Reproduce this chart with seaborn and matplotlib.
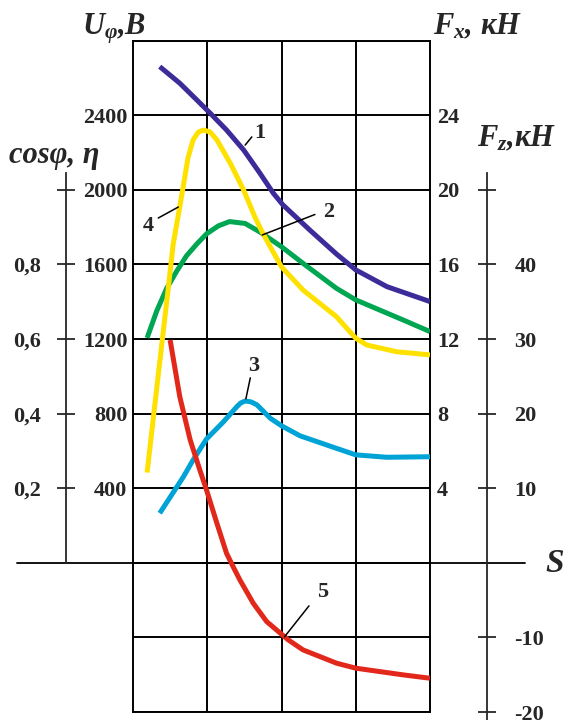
import numpy as np
import pandas as pd
import seaborn as sns
import matplotlib.pyplot as plt

# slip S in grid divisions, all curves read on the U scale (V) of the left axis
s_1 = [0.36, 0.63, 0.86, 1.04, 1.26, 1.49, 1.71, 1.89, 2.02, 2.38, 2.74, 3.0, 3.42, 4.0]
u_1 = [2661, 2572, 2482, 2411, 2321, 2214, 2089, 1982, 1919, 1785, 1656, 1571, 1481, 1401]

s_2 = [0.19, 0.32, 0.45, 0.59, 0.72, 0.86, 0.99, 1.15, 1.3, 1.51, 1.71, 2.0, 2.29,
       2.74, 3.0, 3.64, 4.0]
u_2 = [1206, 1351, 1469, 1565, 1646, 1710, 1764, 1807, 1830, 1820, 1774, 1695, 1606,
       1472, 1410, 1302, 1240]

s_3 = [0.36, 0.68, 0.81, 0.99, 1.22, 1.4, 1.45, 1.51, 1.59, 1.67, 1.85, 2.0, 2.25,
       2.74, 3.0, 3.42, 4.0]
u_3 = [266, 462, 552, 664, 757, 838, 857, 868, 863, 847, 775, 735, 681,
       614, 579, 566, 569]

s_4 = [0.19, 0.3, 0.41, 0.48, 0.54, 0.61, 0.68, 0.74, 0.81, 0.88, 0.95, 1.04, 1.13,
       1.31, 1.49, 1.64, 1.74, 1.85, 2.0, 2.29, 2.74, 3.0, 3.15, 3.55, 4.0]
u_4 = [484, 868, 1249, 1490, 1705, 1865, 2026, 2171, 2268, 2310, 2321, 2310, 2268,
       2143, 1999, 1856, 1774, 1694, 1587, 1463, 1320, 1204, 1168, 1132, 1115]

s_5 = [0.5, 0.63, 0.77, 0.9, 0.99, 1.13, 1.26, 1.35, 1.44, 1.62, 1.8, 2.09, 2.29,
       2.74, 3.0, 3.64, 4.0]
u_5 = [1195, 891, 659, 498, 391, 212, 51, -22, -92, -217, -315, -413, -467,
       -538, -565, -601, -619]

curves = [(s_1, u_1, '#3b2c99'), (s_2, u_2, '#00a651'), (s_3, u_3, '#00a3d6'),
          (s_4, u_4, '#ffe100'), (s_5, u_5, '#e2281b')]

# axis ticks
u_ticks = [400, 800, 1200, 1600, 2000, 2400]
fx_ticks = [4, 8, 12, 16, 20, 24]
cos_ticks = [0.2, 0.4, 0.6, 0.8, 1.0]
cos_labels = ['0,2', '0,4', '0,6', '0,8', '']
fz_ticks = [-20, -10, 10, 20, 30, 40, 50]
fz_labels = ['-20', '-10', '10', '20', '30', '40', '']

sns.set_style('white')
plt.rcParams['font.family'] = ['Liberation Serif', 'DejaVu Serif']
plt.rcParams['font.weight'] = 'bold'
plt.rcParams['mathtext.fontset'] = 'custom'
plt.rcParams['mathtext.it'] = 'Liberation Serif:italic:bold'
plt.rcParams['mathtext.rm'] = 'Liberation Serif:bold'

W, H = 566, 720
fig = plt.figure(figsize=(5.66, 7.2), dpi=100)
ax = fig.add_axes([133 / W, 1 - 712 / H, 297 / W, 671.3 / H])
ax.set_xlim(0, 4)
ax.set_ylim(-800, 2800)
ax.set_xticks([1, 2, 3])
ax.set_yticks(range(-800, 2801, 400))
ax.set_yticklabels([str(v) if v in u_ticks else '' for v in range(-800, 2801, 400)])
ax.grid(True, color='black', lw=1.4)
ax.tick_params(length=0, labelbottom=False, labelsize=16, pad=4)
for sp in ax.spines.values():
    sp.set_color('black')
    sp.set_linewidth(1.4)

for s, u, c in curves:
    sns.lineplot(x=s, y=u, ax=ax, color=c, lw=3.6, solid_joinstyle='round',
                 solid_capstyle='butt', zorder=3)

# S axis through U = 0
ax.axhline(0, xmin=-0.39, xmax=1.32, color='black', lw=1.3, clip_on=False)

# right Fx scale
ax_x = ax.twinx()
ax_x.set_ylim(-8, 28)
ax_x.set_yticks(fx_ticks)
ax_x.tick_params(length=0, labelsize=16, pad=5)
for sp in ax_x.spines.values():
    sp.set_visible(False)

# left cos(phi), eta scale
ax_c = ax.twinx()
ax_c.set_ylim(-0.4, 1.4)
ax_c.yaxis.tick_left()
for k, sp in ax_c.spines.items():
    sp.set_visible(k == 'left')
ax_c.spines['left'].set_position(('axes', -67 / 297))
ax_c.spines['left'].set_bounds(0, 1.045)
ax_c.spines['left'].set_linewidth(1.3)
ax_c.set_yticks(cos_ticks)
ax_c.set_yticklabels(cos_labels)
ax_c.tick_params(direction='inout', length=13.5, width=1.3, labelsize=16, pad=11)

# right Fz scale
ax_z = ax.twinx()
ax_z.set_ylim(-20, 70)
for k, sp in ax_z.spines.items():
    sp.set_visible(k == 'right')
ax_z.spines['right'].set_position(('axes', 354 / 297))
ax_z.spines['right'].set_bounds(-22, 52.3)
ax_z.spines['right'].set_linewidth(1.3)
ax_z.set_yticks(fz_ticks)
ax_z.set_yticklabels(fz_labels)
ax_z.tick_params(direction='inout', length=13.5, width=1.3, labelsize=16, pad=13)

# curve numbers with leaders
labels = [('1', (1.71, 2305), (1.51, 2240), (1.6, 2284)),
          ('2', (2.63, 1882), (1.74, 1758), (2.45, 1868)),
          ('3', (1.63, 1056), (1.52, 879), (1.58, 992)),
          ('4', (0.2, 1806), (0.61, 1908), (0.34, 1849)),
          ('5', (2.56, -156), (2.04, -397), (2.37, -231))]
for txt, pos, p0, p1 in labels:
    ax.plot([p0[0], p1[0]], [p0[1], p1[1]], color='black', lw=1.1, zorder=4)
    ax.text(pos[0], pos[1], txt, ha='center', va='center', fontsize=16)

# axis titles
kw = dict(fontsize=22, style='italic', fontweight='bold')
fig.text(82 / W, 1 - 34 / H, r'$U_{φ}$,B', ha='left', va='baseline', **kw)
fig.text(433 / W, 1 - 34 / H, r'$F_{x}$, кН', ha='left', va='baseline', **kw)
fig.text(477 / W, 1 - 146 / H, r'$F_{z}$,кН', ha='left', va='baseline', **kw)
fig.text(9 / W, 1 - 163 / H, 'cosφ, η', ha='left', va='baseline', **kw)
fig.text(545 / W, 1 - 563 / H, 'S', ha='left', va='center', fontsize=24,
         style='italic', fontweight='bold')

fig.savefig('out.png', dpi=100)
